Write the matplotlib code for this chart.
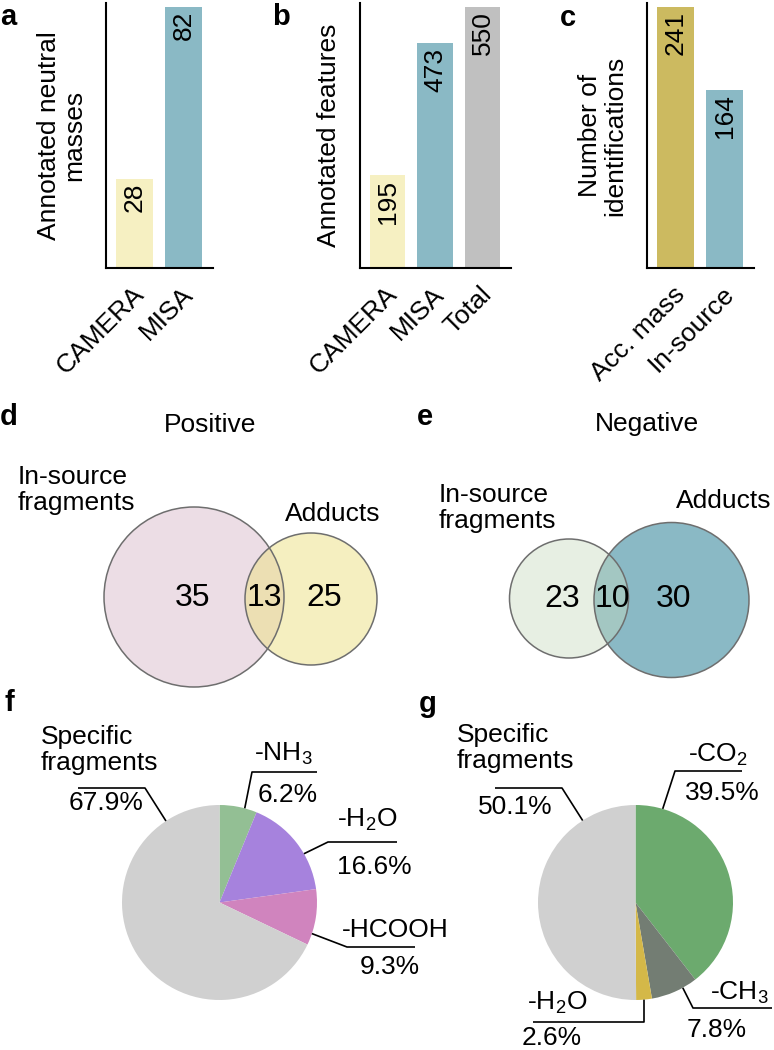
import matplotlib.pyplot as plt
import numpy as np
from matplotlib.patches import Circle
from matplotlib.transforms import ScaledTranslation

plt.rcParams['font.family'] = ['Liberation Sans', 'DejaVu Sans']
plt.rcParams['mathtext.fontset'] = 'custom'
plt.rcParams['mathtext.rm'] = 'Liberation Sans'
plt.rcParams['mathtext.it'] = 'Liberation Sans:italic'

# data
a_labels = ['CAMERA', 'MISA']
a_values = [28, 82]
b_labels = ['CAMERA', 'MISA', 'Total']
b_values = [195, 473, 550]
c_labels = ['Acc. mass', 'In-source']
c_values = [241, 164]

pos_sets = ['In-source\nfragments', 'Adducts']
pos_counts = [35, 13, 25]   # only frag, both, only adducts
neg_sets = ['In-source\nfragments', 'Adducts']
neg_counts = [23, 10, 30]

f_names = [r'-NH$_\mathregular{3}$', r'-H$_\mathregular{2}$O', '-HCOOH', 'Specific\nfragments']
f_values = [6.2, 16.6, 9.3, 67.9]
g_names = [r'-CO$_\mathregular{2}$', r'-CH$_\mathregular{3}$', r'-H$_\mathregular{2}$O', 'Specific\nfragments']
g_values = [39.5, 7.8, 2.6, 50.1]

YEL = '#F6F0C2'
BLU = '#8AB9C5'
GRY = '#C0C0C0'
GLD = '#CCBA60'

W, H = 774, 1050
FS = 19
fig = plt.figure(figsize=(W / 100, H / 100), dpi=100)


def rect(l, t, r, b):
    return [l / W, 1 - b / H, (r - l) / W, (b - t) / H]


def bar_panel(box, labels, values, colors, ylabel, letter, letter_xy):
    ax = fig.add_axes(rect(*box))
    x = np.arange(len(values))
    ax.bar(x, values, width=0.75, color=colors)
    ax.set_xlim(-0.58, len(values) - 0.4)
    ax.set_ylim(0, max(values) * 1.015)
    for xi, v in zip(x, values):
        ax.annotate(str(v), (xi, v), xytext=(0, -3), textcoords='offset points',
                    rotation=90, ha='center', va='top', fontsize=FS)
    for s in ['top', 'right']:
        ax.spines[s].set_visible(False)
    for s in ['left', 'bottom']:
        ax.spines[s].set_linewidth(1.5)
    ax.set_yticks([])
    ax.set_xticks(x)
    ax.set_xticklabels(labels, rotation=45, ha='right', va='top',
                       rotation_mode='anchor', fontsize=FS)
    ax.tick_params(axis='x', length=0, pad=10)
    off = ScaledTranslation(-3 / 100, 0, fig.dpi_scale_trans)
    for t in ax.get_xticklabels():
        t.set_transform(t.get_transform() + off)
    ax.set_ylabel(ylabel, fontsize=FS, labelpad=14, linespacing=1.1)
    fig.text(letter_xy[0] / W, 1 - letter_xy[1] / H, letter, fontsize=21,
             fontweight='bold', ha='center', va='center')
    return ax


bar_panel((106, 3, 213, 268), a_labels, a_values, [YEL, BLU],
          'Annotated neutral\nmasses', 'a', (8, 17))
bar_panel((360, 3, 511, 268), b_labels, b_values, [YEL, BLU, GRY],
          'Annotated features', 'b', (281, 17))
bar_panel((647, 3, 754, 268), c_labels, c_values, [GLD, BLU],
          'Number of\nidentifications', 'c', (568, 18))

# overlay for venn and pies, pixel coords
ov = fig.add_axes([0, 0, 1, 1])
ov.set_xlim(0, W)
ov.set_ylim(0, H)
ov.axis('off')


def Y(py):
    return H - py


def txt(x, y, s, ha='left', size=FS, **kw):
    ov.text(x, Y(y), s, ha=ha, va='center', fontsize=size, **kw)


def venn(c1, c2, col1, col2, alpha2, counts, xs, sets, title, tpos, set_pos):
    ov.add_patch(Circle((c1[0], Y(c1[1])), c1[2], facecolor=col1, edgecolor='none'))
    ov.add_patch(Circle((c2[0], Y(c2[1])), c2[2], facecolor=col2, alpha=alpha2, edgecolor='none'))
    for c in (c1, c2):
        ov.add_patch(Circle((c[0], Y(c[1])), c[2], facecolor='none', edgecolor='#6E6E6E', lw=1.1))
    for n, x in zip(counts, xs):
        txt(x, (c1[1] + c2[1]) / 2, str(n), ha='center', size=23)
    txt(tpos[0], tpos[1], title, ha='center')
    for s, p in zip(sets, set_pos):
        txt(p[0], p[1], s, ha='left', linespacing=1.15)


venn((194, 597, 90), (311, 599, 66), '#ECDDE5', '#EDE183', 0.5, pos_counts,
     [193, 264, 324], pos_sets, 'Positive', (210, 425), [(18, 490), (285, 514)])
venn((671.5, 600, 77.5), (569, 598.5, 59.5), BLU, '#C8DBBE', 0.42, neg_counts[::-1],
     [674, 612, 562], neg_sets[::-1], 'Negative', (647, 424), [(676, 501), (439, 508)])
fig.text(9 / W, 1 - 417 / H, 'd', fontsize=21, fontweight='bold', ha='center', va='center')
fig.text(425 / W, 1 - 417 / H, 'e', fontsize=21, fontweight='bold', ha='center', va='center')


# pies
def pie_panel(center, r, values, colors, names, layout):
    ov.pie(values, colors=colors, startangle=90, counterclock=False,
           center=(center[0], Y(center[1])), radius=r, frame=True)
    for v, name, lay in zip(values, names, layout):
        ang, elbow, xend, namexy, namha, pctxy, pctha = lay
        a = np.deg2rad(ang)
        ax_ = center[0] + r * np.sin(a)
        ay_ = center[1] - r * np.cos(a)
        ov.plot([ax_, elbow[0], xend], [Y(ay_), Y(elbow[1]), Y(elbow[1])],
                color='black', lw=1.2, solid_capstyle='butt')
        txt(namexy[0], namexy[1], name, ha=namha, linespacing=1.15)
        txt(pctxy[0], pctxy[1], f'{v}%', ha=pctha)


f_layout = [
    (15, (252, 772), 317, (254, 754), 'left', (258, 795), 'left'),
    (60, (328, 842), 397, (337, 820), 'left', (337, 867), 'left'),
    (108.6, (347, 947), 415, (342, 930), 'left', (360, 967), 'left'),
    (326.7, (145, 788), 78, (41, 750), 'left', (143, 803), 'right'),
]
pie_panel((219.5, 902.5), 97.5, f_values, ['#93BF94', '#A682DD', '#D084BE', '#D0D0D0'],
          f_names, f_layout)

g_layout = [
    (16.2, (675, 771), 742, (688, 755), 'left', (685, 793), 'left'),
    (151, (693, 1008), 772, (710, 993), 'left', (687, 1030), 'left'),
    (175, (644, 1022), 533, (527, 1003), 'left', (522, 1038), 'left'),
    (327.2, (562, 788), 495, (457, 748), 'left', (553, 807), 'right'),
]
pie_panel((635.5, 902.5), 97.5, g_values, ['#6CAA6E', '#737D73', '#D4B848', '#D0D0D0'],
          g_names, g_layout)
ov.set_xlim(0, W)
ov.set_ylim(0, H)
ov.axis('off')
fig.text(9 / W, 1 - 703 / H, 'f', fontsize=21, fontweight='bold', ha='center', va='center')
fig.text(428 / W, 1 - 704 / H, 'g', fontsize=21, fontweight='bold', ha='center', va='center')

fig.savefig('out.png', dpi=100)
